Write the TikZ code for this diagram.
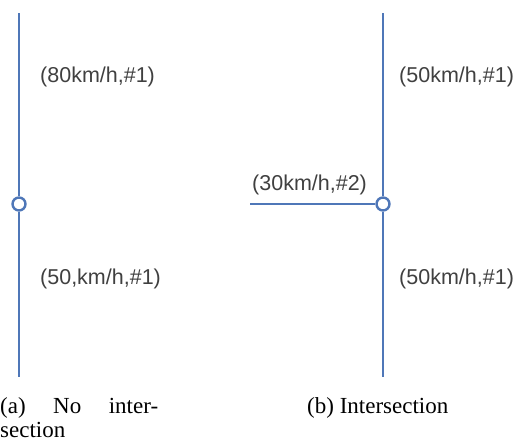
\documentclass[tikz,border=0pt]{standalone}
\usepackage{fontspec}
\setmainfont{Liberation Serif}
\setsansfont{Liberation Sans}
\usepackage{tikz}
\definecolor{roadcolor}{HTML}{4F77B8}
\definecolor{labelcolor}{HTML}{404040}

\begin{document}
\begin{tikzpicture}[x=1pt,y=-1pt,
  road/.style={roadcolor,line width=2.6pt},
  junction/.style={circle,draw=roadcolor,line width=2.4pt,fill=white,minimum size=13pt,inner sep=0pt},
  speedlabel/.style={anchor=west,inner sep=0pt,text=labelcolor,font=\sffamily\fontsize{21.5}{25}\selectfont},
  subcaption/.style={anchor=base west,inner sep=0pt,align=left,font=\fontsize{23}{24}\selectfont}]
\useasboundingbox (0,0) rectangle (516,442);

%% (a) no intersection
\coordinate (atop) at (19,13);
\coordinate (abot) at (19,377);
\node[junction] (ajct) at (19,204) {};
\draw[road] (atop) -- (ajct) -- (abot);
\node[speedlabel] (aup) at (40,77) {(80km/h,\#1)};
\node[speedlabel] (adown) at (40,279) {(50,km/h,\#1)};
\node[subcaption] (acap) at (0,437) {\makebox[158pt][s]{(a) No inter-}\\section};

%% (b) intersection
\coordinate (btop) at (383,13);
\coordinate (bbot) at (383,377);
\coordinate (bside) at (250,204);
\node[junction] (bjct) at (383,204) {};
\draw[road] (btop) -- (bjct) -- (bbot);
\draw[road] (bside) -- (bjct);
\node[speedlabel] (bup) at (399,77) {(50km/h,\#1)};
\node[speedlabel] (bside) at (252,185) {(30km/h,\#2)};
\node[speedlabel] (bdown) at (399,279) {(50km/h,\#1)};
\node[subcaption] (bcap) at (307,413) {(b)~Intersection};
\end{tikzpicture}
\end{document}
